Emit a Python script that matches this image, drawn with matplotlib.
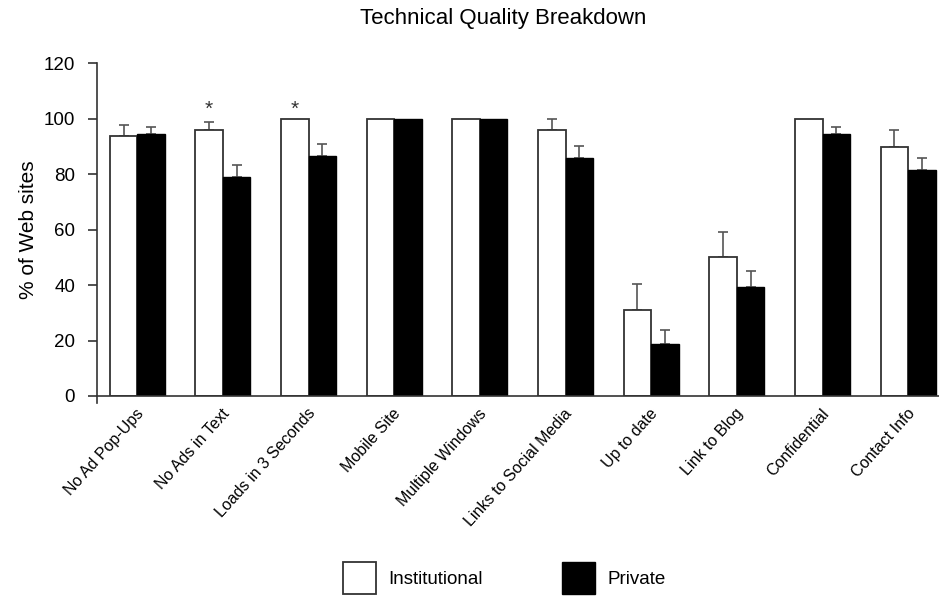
import numpy as np
import matplotlib
matplotlib.use("Agg")
import matplotlib.pyplot as plt
import matplotlib.transforms as mtransforms
from matplotlib.patches import Patch

plt.rcParams['font.family'] = ['Liberation Sans', 'DejaVu Sans']

# --- data -------------------------------------------------------
categories = ["No Ad Pop-Ups", "No Ads in Text", "Loads in 3 Seconds", "Mobile Site",
              "Multiple Windows", "Links to Social Media", "Up to date", "Link to Blog",
              "Confidential", "Contact Info"]
institutional = [93.9, 95.9, 100, 100, 100, 95.9, 31.2, 50.3, 100, 89.8]
inst_err = [3.7, 3.0, 0, 0, 0, 4.0, 9.2, 8.8, 0, 6.2]
private = [94.5, 79.0, 86.6, 100, 100, 85.7, 18.8, 39.5, 94.5, 81.6]
priv_err = [2.5, 4.4, 4.3, 0, 0, 4.4, 5.0, 5.6, 2.5, 4.4]
significant = ["No Ads in Text", "Loads in 3 Seconds"]

# --- plot -------------------------------------------------------
fig = plt.figure(figsize=(9.39, 5.96), dpi=100)
ax = fig.add_axes([0.103, 0.3356, 0.897, 0.558])

x = np.arange(len(categories))
w = 0.32
ax.bar(x - w/2, institutional, w, color='white', edgecolor='#333333', linewidth=1.3, zorder=2)
ax.bar(x + w/2, private, w, color='black', edgecolor='black', linewidth=1.0, zorder=2)

# one-sided error bars, only where there is an error
err_kw = dict(fmt='none', ecolor='#555555', capsize=3.3, elinewidth=1.2, capthick=1.2, zorder=1)
for offs, vals, errs in [(-w/2, institutional, inst_err), (w/2, private, priv_err)]:
    vals = np.array(vals)
    errs = np.array(errs)
    m = errs > 0
    ax.errorbar(x[m] + offs, vals[m], yerr=[np.zeros(m.sum()), errs[m]], **err_kw)

for c in significant:
    i = categories.index(c)
    ax.text(x[i] - w/2, 103.5, '*', ha='center', va='center', fontsize=15, color='#333333')

ax.set_xlim(-0.473, 9.36)
ax.set_ylim(0, 120)
ax.set_yticks(range(0, 121, 20))
ax.set_xticks(x)
ax.set_xticklabels([])
ax.tick_params(axis='x', length=0)

# rotated category labels, nudged a little right of the group centre
lab_tr = ax.get_xaxis_transform() + mtransforms.ScaledTranslation(4/100, -15/100, fig.dpi_scale_trans)
for xi, c in zip(x, categories):
    ax.text(xi, 0, c, transform=lab_tr, rotation=48, ha='right', va='center',
            rotation_mode='anchor', fontsize=11.5, clip_on=False)

ax.tick_params(axis='y', labelsize=13.5, direction='out', length=6.5, pad=9,
               color='#333333', width=1.2)
ax.set_ylabel("% of Web sites", fontsize=15, labelpad=4)
for s in ['top', 'right']:
    ax.spines[s].set_visible(False)
for s in ['left', 'bottom']:
    ax.spines[s].set_color('#333333')
    ax.spines[s].set_linewidth(1.2)
ax.spines['left'].set_bounds(-2.5, 120)

fig.suptitle("Technical Quality Breakdown", fontsize=16, x=0.536, y=0.986)

handles = [Patch(facecolor='white', edgecolor='#333333', linewidth=1.3, label='Institutional'),
           Patch(facecolor='black', edgecolor='black', label='Private')]
fig.legend(handles=handles, loc='center', bbox_to_anchor=(0.537, 0.03), ncol=2,
           frameon=False, handlelength=1.8, handleheight=2.2, handletextpad=0.64,
           columnspacing=4.2, fontsize=13.5)

plt.savefig("out.png", dpi=100)
